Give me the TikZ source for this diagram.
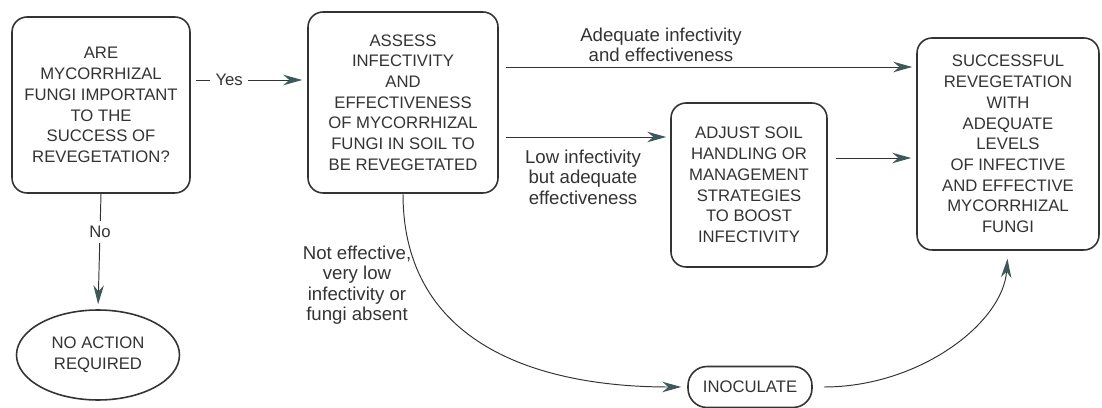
\documentclass[tikz,border=0pt]{standalone}
\usepackage{fontspec}
\setmainfont{Liberation Sans}
\usetikzlibrary{arrows.meta,shapes.geometric}
\definecolor{ink}{HTML}{333333}
\definecolor{tipcol}{HTML}{3D5858}

\begin{document}
\begin{tikzpicture}[x=0.02cm,y=-0.02cm,
    font=\fontsize{9.5}{11.8}\selectfont, text=ink,
    box/.style={draw=ink, line width=0.9pt, rounded corners=0.3cm, align=center, inner sep=0pt},
    arr/.style={draw=ink, line width=0.55pt, -{Stealth[length=3.8mm,width=2.1mm,color=tipcol]}},
    lbl/.style={align=center, inner sep=0pt, font=\fontsize{10.6}{11.6}\selectfont}]
    \useasboundingbox (0,0) rectangle (1102,408);

    % boxes
    \node[box, minimum width=3.56cm, minimum height=3.52cm] (quest) at (101,105)
      {ARE\\MYCORRHIZAL\\FUNGI IMPORTANT\\TO THE\\SUCCESS OF\\REVEGETATION?};
    \node[box, minimum width=3.8cm, minimum height=3.62cm] (assess) at (403,102.5)
      {ASSESS\\INFECTIVITY\\AND\\EFFECTIVENESS\\OF MYCORRHIZAL\\FUNGI IN SOIL TO\\BE REVEGETATED};
    \node[box, minimum width=3.12cm, minimum height=3.28cm] (adjust) at (749,185)
      {ADJUST SOIL\\HANDLING OR\\MANAGEMENT\\STRATEGIES\\TO BOOST\\INFECTIVITY};
    \node[box, minimum width=3.64cm, minimum height=4.24cm] (success) at (1008,144)
      {SUCCESSFUL\\REVEGETATION\\WITH\\ADEQUATE\\LEVELS\\OF INFECTIVE\\AND EFFECTIVE\\MYCORRHIZAL\\FUNGI};
    \node[draw=ink, line width=0.9pt, ellipse, align=center, inner sep=0pt,
      minimum width=3.26cm, minimum height=1.8cm] (noaction) at (98,355) {NO ACTION\\REQUIRED};
    \node[box, rounded corners=0.38cm, minimum width=2.48cm, minimum height=0.82cm] (inoc) at (750,387)
      {INOCULATE};

    % labels
    \node[lbl] (adeq) at (661,45) {Adequate infectivity\\and effectiveness};
    \node[lbl] (lowinf) at (583,177) {Low infectivity\\but adequate\\effectiveness};
    \node[lbl] (noteff) at (357,285) {Not effective,\\very low\\infectivity or\\fungi absent};

    % connectors
    \draw[arr, shorten <=3pt, shorten >=0.1cm] ([yshift=0.5cm]quest.east)
      -- node[pos=0.33, fill=white, inner sep=3pt] {Yes} ([yshift=0.5cm]quest.east -| assess.west);
    \draw[arr, shorten >=0.1cm] (quest.south)
      -- node[pos=0.33, fill=white, inner sep=3pt] {No} (noaction.north);
    \draw[arr, shorten <=0.14cm, shorten >=0.08cm] ([yshift=0.71cm]assess.east)
      -- ([yshift=0.71cm]assess.east -| success.west);
    \draw[arr, shorten <=0.14cm, shorten >=0.08cm] ([yshift=-0.69cm]assess.east)
      -- ([yshift=-0.69cm]assess.east -| adjust.west);
    \draw[arr, shorten <=0.16cm, shorten >=0.1cm] ([yshift=0.54cm]adjust.east)
      -- ([yshift=0.54cm]adjust.east -| success.west);
    \draw[arr, shorten >=0.12cm] (assess.south) .. controls +(0,150) and +(-150,0) .. (inoc.west);
    \draw[arr, shorten <=0.22cm, shorten >=0.16cm] (inoc.east) .. controls +(107,0) and +(-5,72) .. (success.south);
\end{tikzpicture}
\end{document}
